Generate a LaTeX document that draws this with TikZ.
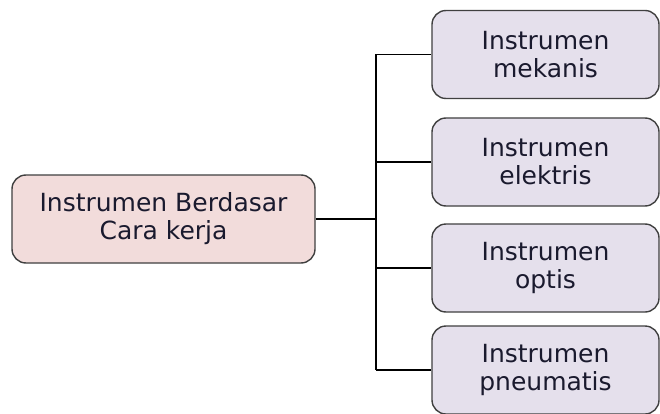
\documentclass[tikz,border=0pt]{standalone}
\usepackage{fontspec}
\setmainfont{DejaVu Sans}
\definecolor{rootfill}{HTML}{F2DCDB}
\definecolor{leaffill}{HTML}{E5E0EC}
\definecolor{edge}{HTML}{404040}
\definecolor{txt}{HTML}{1A1A2E}
\begin{document}
\begin{tikzpicture}[x=1pt,y=-1pt,
  box/.style={draw=edge, line width=1.4pt, rounded corners=14pt, align=center,
    text=txt, font=\fontsize{25}{28}\selectfont, inner sep=0pt},
  rootbox/.style={box, fill=rootfill, minimum width=303pt, minimum height=88pt},
  leafbox/.style={box, fill=leaffill, minimum width=227pt, minimum height=88pt},
  conn/.style={draw=black, line width=1.2pt}]
\fill[white] (0,0) rectangle (660,414);
\useasboundingbox (0,0) rectangle (660,414);
\node[rootbox] (root) at (163.5,219) {Instrumen Berdasar\\Cara kerja};
\node[leafbox] (r1) at (545.5,54.5) {Instrumen\\mekanis};
\node[leafbox] (r2) at (545.5,162) {Instrumen\\elektris};
\node[leafbox] (r3) at (545.5,268) {Instrumen\\optis};
\node[leafbox] (r4) at (545.5,370) {Instrumen\\pneumatis};
\coordinate (j) at (376,219);
\draw[conn] (root.east) -- (j);
\draw[conn] (r1.west -| j) -- (r4.west -| j);
\foreach \n in {r1,r2,r3,r4} \draw[conn] (\n.west -| j) -- (\n.west);
\end{tikzpicture}
\end{document}
